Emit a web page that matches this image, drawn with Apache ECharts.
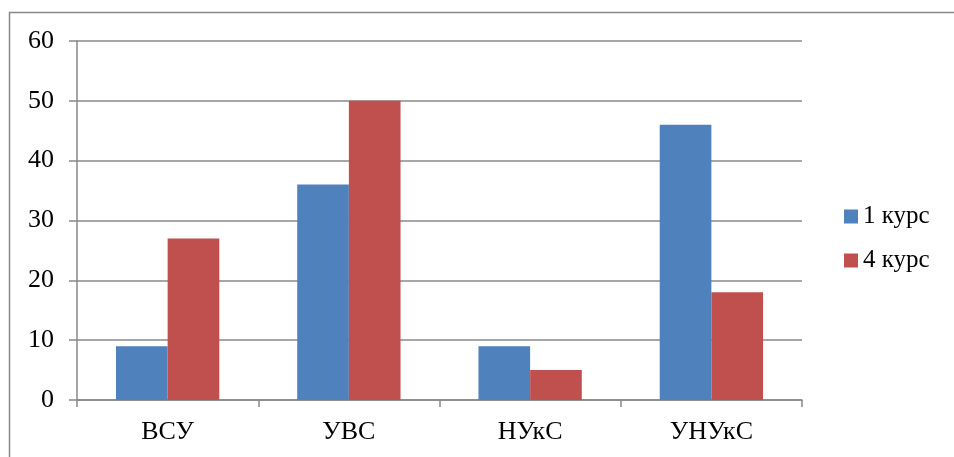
<!DOCTYPE html>
<html>
<head>
<meta charset="utf-8">
<script src="https://cdn.jsdelivr.net/npm/echarts@6/dist/echarts.min.js"></script>
<style>
  html, body { margin: 0; padding: 0; background: #fff; }
  #chart { width: 954px; height: 457px; }
</style>
</head>
<body>
<div id="chart"></div>
<script>
// данные
var categories = ['ВСУ', 'УВС', 'НУкС', 'УНУкС'];
var course1 = [9, 36, 9, 46];
var course4 = [27, 50, 5, 18];
var seriesNames = ['1 курс', '4 курс'];

var myChart = echarts.init(document.getElementById('chart'));
var font = '"Liberation Serif", "Times New Roman", serif';

var option = {
    backgroundColor: '#fff',
    animation: false,
    textStyle: { fontFamily: font },
    color: ['#4f81bd', '#c0504d'],
    // рамка вокруг диаграммы
    graphic: [{
        type: 'polyline',
        shape: { points: [[9.5, 460], [9.5, 12.5], [960, 12.5]] },
        style: { stroke: '#888', lineWidth: 1.5, fill: null }
    }],
    legend: {
        data: seriesNames,
        orient: 'vertical',
        left: 839,
        top: 199,
        itemWidth: 14,
        itemHeight: 14,
        itemGap: 19,
        icon: 'rect',
        textStyle: { fontFamily: font, fontSize: 25, color: '#000' }
    },
    grid: {
        left: 77,
        right: 152,
        top: 41,
        bottom: 57
    },
    xAxis: {
        type: 'category',
        data: categories,
        axisLine: { lineStyle: { color: '#888', width: 1.5 } },
        axisTick: { show: true, length: 7, lineStyle: { color: '#888', width: 1.5 } },
        axisLabel: { color: '#000', fontSize: 26, fontFamily: font, margin: 19 }
    },
    yAxis: {
        type: 'value',
        min: 0,
        max: 60,
        interval: 10,
        axisLine: { show: true, lineStyle: { color: '#888', width: 1.5 } },
        axisTick: { show: true, length: 8, lineStyle: { color: '#888', width: 1.5 } },
        splitLine: { lineStyle: { color: '#888', width: 1.5 } },
        axisLabel: { color: '#000', fontSize: 26, fontFamily: font, margin: 23 }
    },
    series: [
        {
            name: seriesNames[0],
            type: 'bar',
            data: course1,
            barGap: '0%',
            barCategoryGap: '43%'
        },
        {
            name: seriesNames[1],
            type: 'bar',
            data: course4,
            barGap: '0%',
            barCategoryGap: '43%'
        }
    ]
};

option && myChart.setOption(option);
</script>
</body>
</html>
